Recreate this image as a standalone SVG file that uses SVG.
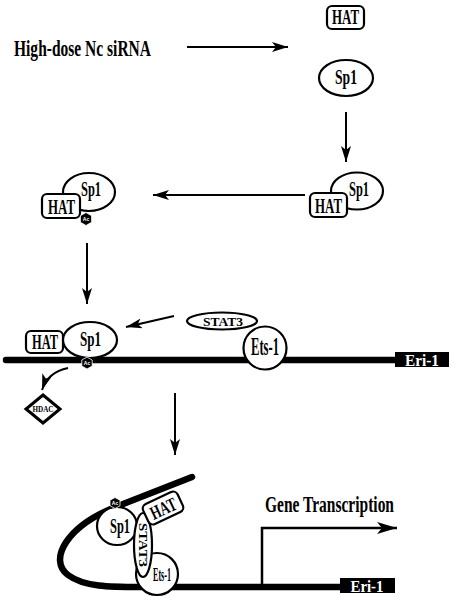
<svg xmlns="http://www.w3.org/2000/svg" width="455" height="600" viewBox="0 0 455 600">
<style>
.t{font-family:"Liberation Serif","DejaVu Serif",serif;font-weight:bold;fill:#000}
.box{fill:#fff;stroke:#000;stroke-width:2.2}
.ov{fill:#fff;stroke:#000;stroke-width:2.2}
.ln{stroke:#000;stroke-width:2;fill:none}
.dna{stroke:#000;stroke-width:6.5;fill:none;stroke-linecap:round}
.ac{fill:#000;stroke:#fff;stroke-width:0.8}
.act{font-family:"Liberation Sans",sans-serif;font-size:5px;fill:#fff;font-weight:bold}
</style>
<defs>
<marker id="ah" viewBox="0 0 16 10" refX="16" refY="5" markerWidth="16" markerHeight="10" markerUnits="userSpaceOnUse" orient="auto">
<path d="M0,0 L16,5 L0,10 L4,5 z" fill="#000"/>
</marker>
<marker id="ah2" viewBox="0 0 20 12" refX="20" refY="6" markerWidth="22" markerHeight="12" markerUnits="userSpaceOnUse" orient="auto">
<path d="M0,0 L20,6 L0,12 L5,6 z" fill="#000"/>
</marker>
</defs>

<text class="t" x="14" y="56" font-size="23" textLength="137" lengthAdjust="spacingAndGlyphs">High-dose Nc siRNA</text>

<g id="connectors">
<line class="ln" x1="187" y1="47" x2="288" y2="47" marker-end="url(#ah)"/>
<line class="ln" x1="346" y1="112" x2="346" y2="162" marker-end="url(#ah)"/>
<line class="ln" x1="305" y1="195" x2="153" y2="195" marker-end="url(#ah)"/>
<line class="ln" x1="87" y1="243" x2="87" y2="304" marker-end="url(#ah)"/>
<line class="ln" x1="174" y1="316" x2="126" y2="327" marker-end="url(#ah)"/>
<path class="ln" d="M68,368 Q48,372 42,390" marker-end="url(#ah)"/>
<line class="ln" x1="175" y1="393" x2="175" y2="455" marker-end="url(#ah)"/>
</g>

<g id="hat-free">
<rect class="box" x="327" y="6" width="37" height="23" rx="5"/>
<text class="t" x="345.5" y="24" font-size="21" text-anchor="middle" textLength="27" lengthAdjust="spacingAndGlyphs">HAT</text>
</g>
<g id="sp1-free">
<ellipse class="ov" cx="346" cy="78" rx="27" ry="18"/>
<text class="t" x="346" y="83.5" font-size="21" text-anchor="middle" textLength="22" lengthAdjust="spacingAndGlyphs">Sp1</text>
</g>

<g id="complex-right">
<ellipse class="ov" cx="357" cy="191" rx="26" ry="18.5"/>
<text class="t" x="359" y="195.5" font-size="20" text-anchor="middle" textLength="20" lengthAdjust="spacingAndGlyphs">Sp1</text>
<rect class="box" x="310" y="193" width="37" height="24" rx="5"/>
<text class="t" x="328.5" y="212.5" font-size="20" text-anchor="middle" textLength="27" lengthAdjust="spacingAndGlyphs">HAT</text>
</g>

<g id="complex-left">
<ellipse class="ov" cx="89" cy="192" rx="26" ry="19"/>
<text class="t" x="91" y="196" font-size="20" text-anchor="middle" textLength="20" lengthAdjust="spacingAndGlyphs">Sp1</text>
<rect class="box" x="42" y="194" width="38" height="24" rx="5"/>
<text class="t" x="61.5" y="213.5" font-size="20" text-anchor="middle" textLength="27" lengthAdjust="spacingAndGlyphs">HAT</text>
<polygon class="ac" points="86,212.5 91.6,215.75 91.6,222.25 86,225.5 80.4,222.25 80.4,215.75"/>
<text class="act" x="86" y="221" text-anchor="middle">Ac</text>
</g>

<g id="dna-1">
<line class="dna" x1="6" y1="360" x2="400" y2="360"/>
<rect x="395" y="352" width="54" height="15" fill="#000"/>
<text class="t" x="422" y="365.5" font-size="17" style="fill:#fff" text-anchor="middle" textLength="34" lengthAdjust="spacingAndGlyphs">Eri-1</text>
</g>

<g id="complex-dna">
<rect class="box" x="26" y="331" width="37" height="22" rx="5"/>
<text class="t" x="45" y="348.5" font-size="21" text-anchor="middle" textLength="26" lengthAdjust="spacingAndGlyphs">HAT</text>
<ellipse class="ov" cx="90" cy="340" rx="27" ry="18"/>
<text class="t" x="90.5" y="346" font-size="21" text-anchor="middle" textLength="21" lengthAdjust="spacingAndGlyphs">Sp1</text>
<polygon class="ac" points="87,357 92.2,360 92.2,366 87,369 81.8,366 81.8,360"/>
<text class="act" x="87" y="365" text-anchor="middle">Ac</text>
</g>

<g id="stat3">
<ellipse class="ov" cx="222" cy="321" rx="35" ry="8.5"/>
<text class="t" x="223" y="325.5" font-size="13" text-anchor="middle" textLength="40" lengthAdjust="spacingAndGlyphs">STAT3</text>
</g>

<g id="ets1">
<circle class="ov" cx="265" cy="348" r="21.5"/>
<text class="t" x="265" y="355" font-size="25" text-anchor="middle" textLength="28" lengthAdjust="spacingAndGlyphs">Ets-1</text>
</g>

<g id="hdac">
<polygon fill="#fff" stroke="#000" stroke-width="3" points="43,395 60,409 43,423 26,409"/>
<text class="t" x="43" y="412" font-size="8.5" text-anchor="middle" textLength="21" lengthAdjust="spacingAndGlyphs">HDAC</text>
</g>

<g id="loop">
<path class="dna" d="M192,477 L118,506 C66,526 48,560 68,575 C84,587 110,587 140,587 L345,587"/>
<rect x="340" y="578" width="55" height="15" fill="#000"/>
<text class="t" x="367" y="591.5" font-size="17" style="fill:#fff" text-anchor="middle" textLength="33" lengthAdjust="spacingAndGlyphs">Eri-1</text>
<path d="M262,586 V528 H397" fill="none" stroke="#000" stroke-width="2.5" marker-end="url(#ah2)"/>
<text class="t" x="265" y="512" font-size="23" textLength="129" lengthAdjust="spacingAndGlyphs">Gene Transcription</text>
</g>

<g id="complex-loop">
<ellipse class="ov" cx="117" cy="526" rx="20" ry="19"/>
<text class="t" x="120" y="533" font-size="20" text-anchor="middle" textLength="20" lengthAdjust="spacingAndGlyphs">Sp1</text>
<circle class="ov" cx="157" cy="574" r="21"/>
<text class="t" x="162" y="580.5" font-size="19" text-anchor="middle" textLength="18" lengthAdjust="spacingAndGlyphs">Ets-1</text>
<ellipse class="ov" cx="143" cy="545" rx="9" ry="32"/>
<text class="t" transform="translate(139,545) rotate(90)" font-size="13" text-anchor="middle" textLength="44" lengthAdjust="spacingAndGlyphs">STAT3</text>
<g transform="translate(163,508) rotate(-25)">
<rect class="box" x="-19" y="-11" width="38" height="22" rx="5"/>
<text class="t" x="0" y="7" font-size="19" text-anchor="middle" textLength="27" lengthAdjust="spacingAndGlyphs">HAT</text>
</g>
<polygon class="ac" points="115,497.5 120,500.25 120,505.75 115,508.5 110,505.75 110,500.25"/>
<text class="act" x="115" y="505" text-anchor="middle">Ac</text>
</g>
</svg>
